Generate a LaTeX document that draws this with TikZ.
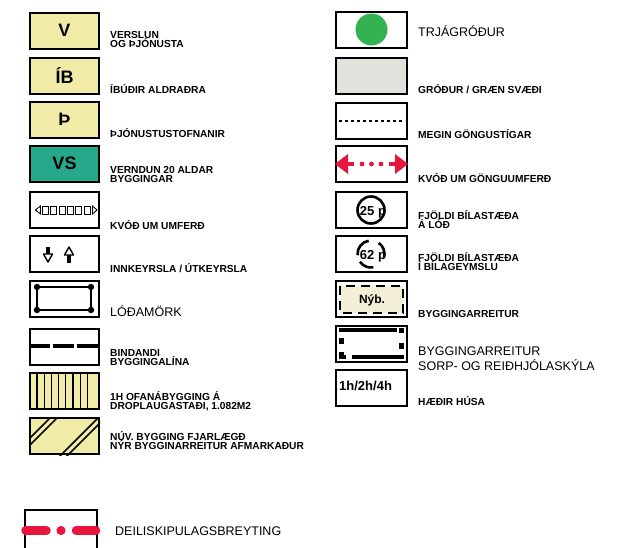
\documentclass[tikz,border=0pt]{standalone}
\usepackage{fontspec}
\setmainfont{Liberation Sans}
\definecolor{ylw}{RGB}{240,236,168}
\definecolor{vsgreen}{RGB}{38,168,138}
\definecolor{treegreen}{RGB}{52,178,82}
\definecolor{grassgray}{RGB}{226,226,220}
\definecolor{kvred}{RGB}{232,22,62}
\definecolor{cream}{RGB}{243,239,214}
\newcommand\lblfont{\fontsize{10.2}{9}\selectfont\bfseries\lineskiplimit=-\maxdimen}
\newcommand\plainfont{\fontsize{12.5}{15}\selectfont\lineskiplimit=-\maxdimen}
\newcommand\glyphfont{\fontsize{18}{18}\selectfont\bfseries}
\begin{document}
\begin{tikzpicture}[x=1pt,y=-1pt]
\tikzset{box/.style={draw,line width=2pt,minimum width=69pt,minimum height=36pt,inner sep=0pt,font=\glyphfont},
 rbox/.style={box,minimum width=71pt},
 lbl/.style={anchor=base west,align=left,inner sep=0pt,font=\lblfont},
 plain/.style={anchor=base west,align=left,inner sep=0pt,font=\plainfont},
 num/.style={anchor=base,inner sep=0pt,font=\fontsize{13}{13}\selectfont\bfseries}}
\useasboundingbox (0,0) rectangle (626,547);
\node[box,fill=ylw] (v) at (64.5,30.5) {V};
\node[box,fill=ylw] (ib) at (64.5,75.5) {ÍB};
\node[box,fill=ylw] (th) at (64.5,119.5) {Þ};
\node[box,fill=vsgreen] (vs) at (64.5,163.5) {VS};
\foreach \n/\y in {kvu/210,inn/254,lod/298.5,bind/346.5}{\node[box] (\n) at (64.5,\y) {};}
\foreach \n/\y in {ofan/391,nuv/436}{\node[box,fill=ylw] (\n) at (64.5,\y) {};}
\draw[line width=.9pt] (35.5,210)--(40.5,206)--(40.5,214)--cycle;
\foreach \i in {0,...,5}{\draw[line width=.9pt] (42.5+8.3*\i,206) rectangle ++(6,8);}
\draw[line width=.9pt] (92.5,206)--(97,210)--(92.5,214)--cycle;
\draw[line width=3.2pt] (48,247)--(48,254);
\draw[line width=1.4pt,fill=white,line join=round] (43.5,254)--(52.5,254)--(48,262)--cycle;
\draw[line width=3.2pt] (69,254)--(69,262.5);
\draw[line width=1.4pt,fill=white,line join=round] (64.5,255)--(73.5,255)--(69,247)--cycle;
\draw[line width=2pt] (37,287) rectangle (91,310);
\foreach \x/\y in {37/287,91/287,37/310,91/310}{\fill (\x,\y) circle (3.2);}
\draw[line width=3.5pt,dash pattern=on 21pt off 3pt] (29,346)--(100,346);
\foreach \i in {0,...,7}{\draw[line width=1.2pt] (37+7.2*\i,373)--(37+7.2*\i,409);}
\begin{scope}
\clip (nuv.south west) rectangle (nuv.north east);
\foreach \c in {468,475,516,523}{\draw[line width=1.5pt] (\c-460,460)--(\c-410,410);}
\end{scope}
\node[lbl] (v-t) at (110,47) {VERSLUN\\OG ÞJÓNUSTA};
\node[lbl] (ib-t) at (110,93) {ÍBÚÐIR ALDRAÐRA};
\node[lbl] (th-t) at (110,137) {ÞJÓNUSTUSTOFNANIR};
\node[lbl] (vs-t) at (110,182) {VERNDUN 20 ALDAR\\BYGGINGAR};
\node[lbl] (kvu-t) at (110,229) {KVÓÐ UM UMFERÐ};
\node[lbl] (inn-t) at (110,272) {INNKEYRSLA / ÚTKEYRSLA};
\node[plain] (lod-t) at (110,316) {LÓÐAMÖRK};
\node[lbl] (bind-t) at (110,365) {BINDANDI\\BYGGINGALÍNA};
\node[lbl] (ofan-t) at (110,409) {1H OFANÁBYGGING Á\\DROPLAUGASTAÐI, 1.082M2};
\node[lbl] (nuv-t) at (110,449) {NÚV. BYGGING FJARLÆGÐ\\NÝR BYGGINARREITUR AFMARKAÐUR};
\node[rbox] (tre) at (371.5,29.5) {};
\fill[treegreen] (tre.center) circle (16);
\node[rbox,fill=grassgray] (grod) at (371.5,76) {};
\node[rbox] (megin) at (371.5,120.5) {};
\draw[line width=2.2pt,dash pattern=on 2.6pt off 3.4pt] (339,121)--(405,121);
\node[rbox] (kvg) at (371.5,163.5) {};
\fill[kvred] (335,164)--(348,154)--(348,174)--cycle;
\fill[kvred] (408,164)--(395,154)--(395,174)--cycle;
\draw[kvred,line width=4pt] (347,164)--(354,164) (389,164)--(396,164);
\foreach \x in {362,371.5,381}{\fill[kvred] (\x,164) circle (2.4);}
\node[rbox] (bil) at (371.5,210) {};
\draw[line width=2.6pt] (371,210) circle (13.5);
\node[num] (bil-n) at (373,215.5) {25 p};
\node[rbox] (bilg) at (371.5,254) {};
\foreach \a/\b in {-100/-185,-215/-280,15/-55}{\draw[line width=2.6pt] (371,254) ++(\a:13.5) arc[start angle=\a,end angle=\b,radius=13.5];}
\node[num] (bilg-n) at (373,259.5) {62 p};
\node[rbox] (nyb) at (371.5,299) {};
\draw[line width=2pt,fill=cream,dash pattern=on 9pt off 6pt] (340,285.5) rectangle (403,312.5);
\node[num,font=\fontsize{12}{12}\selectfont\bfseries] (nyb-n) at (372,303) {Nýb.};
\node[rbox] (sorp) at (371.5,343.5) {};
\foreach \xa/\ya/\xb/\yb in {339/327.5/397/331.5,398.5/327.5/403.5/333,339/338/343.5/343.5,339/352/343.5/359,339/355/346/359,398.5/342.5/403.5/349,352/355/404/359}{\fill (\xa,\ya) rectangle (\xb,\yb);}
\node[rbox] (haed) at (371.5,388) {};
\node[num,anchor=base west] (haed-n) at (339,390) {1h/2h/4h};
\node[plain] (tre-t) at (418,36) {TRJÁGRÓÐUR};
\node[lbl] (grod-t) at (418,93) {GRÓÐUR / GRÆN SVÆÐI};
\node[lbl] (megin-t) at (418,138) {MEGIN GÖNGUSTÍGAR};
\node[lbl] (kvg-t) at (418,182) {KVÓÐ UM GÖNGUUMFERÐ};
\node[lbl] (bil-t) at (418,228) {FJÖLDI BÍLASTÆÐA\\Á LÓÐ};
\node[lbl] (bilg-t) at (418,270) {FJÖLDI BÍLASTÆÐA\\Í BÍLAGEYMSLU};
\node[lbl] (nyb-t) at (418,317) {BYGGINGARREITUR};
\node[plain] (sorp-t) at (418,370) {BYGGINGARREITUR\\SORP- OG REIÐHJÓLASKÝLA};
\node[lbl] (haed-t) at (418,405) {HÆÐIR HÚSA};
\draw[line width=2pt] (25,548)--(25,510)--(97,510)--(97,548);
\draw[kvred,line width=8.5pt,line cap=round] (25.5,530.5)--(46.5,530.5) (76,530.5)--(96,530.5);
\fill[kvred] (61,530.5) circle (4.6);
\node[plain] (deil) at (115,535.5) {DEILISKIPULAGSBREYTING};
\end{tikzpicture}
\end{document}
